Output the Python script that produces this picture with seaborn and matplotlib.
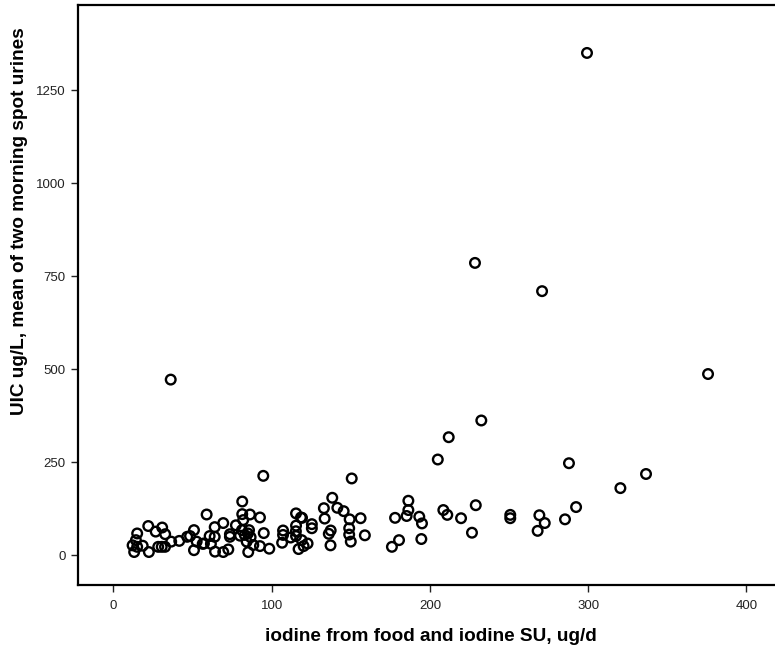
import matplotlib
matplotlib.use("Agg")
import matplotlib.pyplot as plt
import seaborn as sns
import pandas as pd

# iodine intake (ug/d) and UIC (ug/L)
iodine = [
    299.3, 228.5, 270.9, 36.2, 375.8, 232.5, 211.9, 205.0, 287.9, 336.6,
    320.4, 94.7, 150.6, 208.5, 211.0, 219.7, 229.0, 226.6, 250.8, 250.8,
    269.2, 272.6, 268.1, 285.4, 292.4, 186.4, 186.4, 185.3, 193.3, 195.0,
    194.6, 180.5, 176.0, 178.0, 138.3, 133.0, 141.5, 145.5, 119.2, 133.5,
    149.3, 156.2, 125.4, 125.4, 137.3, 136.1, 149.0, 149.0, 158.9, 150.0,
    137.2, 122.7, 120.2, 117.0, 119.0, 115.4, 118.5, 115.4, 115.3, 115.4,
    112.0, 107.2, 107.2, 106.6, 98.5, 95.0, 92.6, 92.6, 81.4, 58.9,
    81.4, 86.3, 69.4, 64.0, 77.4, 82.0, 81.2, 85.7, 73.6, 73.6,
    60.8, 64.0, 56.4, 61.6, 64.2, 69.4, 72.6, 85.2, 84.2, 86.7,
    88.4, 83.0, 80.0, 85.0, 22.0, 26.7, 30.8, 32.7, 15.0, 14.2,
    12.1, 15.0, 18.5, 13.1, 22.4, 28.3, 30.5, 32.6, 36.5, 41.6,
    46.6, 50.9, 48.4, 52.6, 50.9, 57.2,
]
uic = [
    1351, 786, 710, 472, 487, 362, 317, 257, 247, 218,
    180, 213, 206, 121, 108, 99, 134, 60, 108, 99,
    107, 86, 65, 96, 129, 146, 121, 105, 103, 85,
    43, 40, 22, 100, 154, 126, 127, 118, 100, 98,
    96, 99, 83, 72, 66, 57, 72, 55, 53, 36,
    26, 31, 24, 16, 40, 112, 101, 79, 64, 51,
    47, 66, 54, 33, 17, 59, 24, 101, 144, 109,
    110, 109, 86, 75, 80, 94, 67, 67, 56, 49,
    51, 49, 30, 30, 9, 8, 15, 8, 36, 48,
    27, 54, 52, 58, 78, 63, 74, 56, 58, 40,
    26, 22, 25, 8, 8, 22, 22, 22, 36, 38,
    49, 67, 51, 36, 13, 31,
]

x_ticks = [0, 100, 200, 300, 400]
y_ticks = [0, 250, 500, 750, 1000, 1250]

df = pd.DataFrame({"iodine": iodine, "uic": uic})

sns.set_style("white")
plt.rcParams["font.family"] = ["Liberation Sans", "DejaVu Sans"]

fig = plt.figure(figsize=(7.75, 6.48), dpi=100)
ax = fig.add_axes([78 / 775, 1 - 585 / 648, 712 / 775, 580 / 648])

sns.scatterplot(
    data=df,
    x="iodine",
    y="uic",
    marker="o",
    s=48,
    facecolor="none",
    edgecolor="black",
    linewidth=1.7,
    ax=ax,
)

ax.set_xlim(-22.4, 427.6)
ax.set_ylim(-80.7, 1480)
ax.set_xticks(x_ticks)
ax.set_yticks(y_ticks)

for side in ["left", "bottom", "top", "right"]:
    ax.spines[side].set_color("black")
    ax.spines[side].set_linewidth(1.6)

ax.tick_params(
    axis="both", direction="out", length=5, width=1, color="#222222",
    labelsize=9.5, labelcolor="#222222", left=True, bottom=True, pad=4,
)
ax.tick_params(axis="x", pad=6)

ax.set_xlabel("iodine from food and iodine SU, ug/d", fontsize=13.7,
              fontweight="bold", color="black")
ax.set_ylabel("UIC ug/L, mean of two morning spot urines", fontsize=13.7,
              fontweight="bold", color="black")
ax.xaxis.set_label_coords(0.496, -0.074)
ax.yaxis.set_label_coords(-0.070, 0.628)

fig.savefig("out.png", dpi=100)
